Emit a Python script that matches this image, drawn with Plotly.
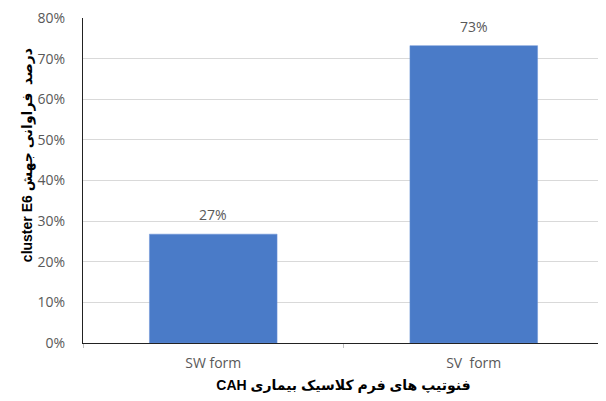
import plotly.graph_objects as go

categories = ["SW form", "SV  form"]
values = [0.268, 0.732]
labels = ["27%", "73%"]
y_ticks = [0, 0.1, 0.2, 0.3, 0.4, 0.5, 0.6, 0.7, 0.8]

x_title = "CAH فنوتیپ های فرم کلاسیک بیماری"
y_title = "cluster E6 درصد  فراوانی جهش"

FONT = "Open Sans, Liberation Sans, DejaVu Sans, sans-serif"
BOLD = "Liberation Sans, DejaVu Sans, sans-serif"

fig = go.Figure(
    go.Bar(
        x=categories,
        y=values,
        marker=dict(color="#4a7bc8", line=dict(color="#6b93d6", width=0.5)),
    )
)

for c, v, t in zip(categories, values, labels):
    fig.add_annotation(
        x=c, y=v, text=t, showarrow=False, yanchor="bottom", yshift=8,
        font=dict(family=FONT, size=14, color="#595959"),
    )

# y-axis title (placed like the original, above the plot's vertical centre)
fig.add_annotation(
    xref="paper", yref="paper", x=-0.1075, y=0.578,
    xanchor="center", yanchor="middle", textangle=-90,
    text=y_title, showarrow=False,
    font=dict(family=BOLD, size=14, color="black", weight="bold"),
)

fig.update_layout(
    width=598,
    height=393,
    margin=dict(l=75, r=2, t=10, b=58),
    paper_bgcolor="white",
    plot_bgcolor="white",
    bargap=0.51,
    showlegend=False,
    font=dict(family=FONT, size=14, color="#595959"),
)

fig.update_xaxes(
    automargin=False,
    showline=True,
    linecolor="#222222",
    linewidth=1.3,
    ticks="outside",
    tickson="boundaries",
    ticklen=4,
    tickcolor="#bfbfbf",
    ticklabelstandoff=7,
    tickfont=dict(family=FONT, size=14, color="#595959"),
    title=dict(text=x_title, font=dict(family=BOLD, size=14, color="black", weight="bold"), standoff=9),
)

fig.update_yaxes(
    automargin=False,
    range=[0, 0.8],
    tickvals=y_ticks,
    tickformat=".0%",
    ticklabeloverflow="allow",
    showgrid=True,
    gridcolor="#d9d9d9",
    gridwidth=1,
    showline=True,
    linecolor="#222222",
    linewidth=1.3,
    zeroline=False,
    ticks="",
    ticklabelstandoff=14,
    tickfont=dict(family=FONT, size=14, color="#595959"),
)

fig.write_html("out.html")
